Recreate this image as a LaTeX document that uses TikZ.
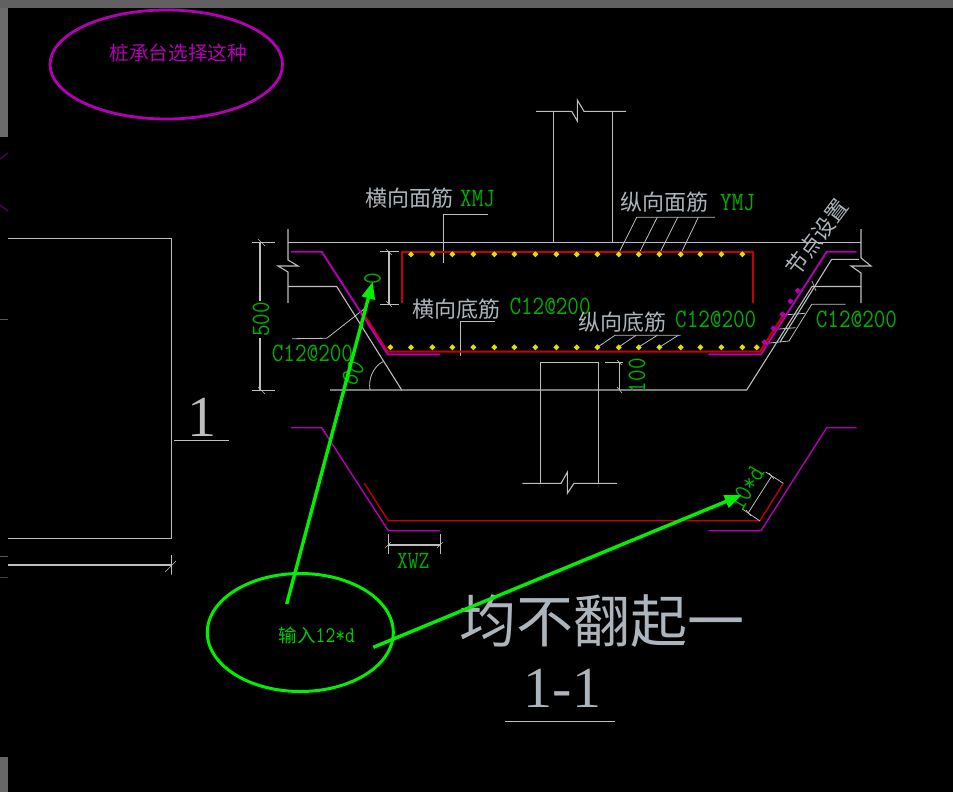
\documentclass[tikz,border=0pt]{standalone}
\usepackage{fontspec}
\usetikzlibrary{arrows.meta,shapes.geometric}
\newfontfamily\cjk{Noto Sans CJK SC}
\newfontfamily\cadserif{Liberation Serif}
\definecolor{cadwhite}{HTML}{BEBEBE}
\definecolor{cadmag}{HTML}{B400B4}
\definecolor{cadred}{HTML}{C80000}
\definecolor{cadgreen}{HTML}{00B000}
\definecolor{cadbright}{HTML}{00F000}
\definecolor{cadyellow}{HTML}{E0E000}
\definecolor{cadtext}{HTML}{ACB4BC}
\newcommand{\tall}[1]{\scalebox{1}[1.18]{#1}}
\newcommand{\ydot}[2]{\fill[cadyellow] (#1,#2) +(-3,0) -- +(0,-3) -- +(3,0) -- +(0,3) -- cycle;}
\newcommand{\mdot}[2]{\fill[cadmag] (#1,#2) +(-3,0) -- +(0,-3) -- +(3,0) -- +(0,3) -- cycle;}
\tikzset{
  wline/.style={draw=cadwhite,line width=1.1pt},
  tick/.style={draw=cadwhite,line width=0.6pt},
  leader/.style={draw=cadwhite,line width=0.8pt},
  magline/.style={draw=cadmag,line width=1.4pt,line join=miter},
  redline/.style={draw=cadred,line width=2pt},
  redthin/.style={draw=cadred,line width=1.3pt},
  cntext/.style={inner sep=0pt,text=cadtext,font=\cjk\fontsize{22}{22}\selectfont},
  grtext/.style={inner sep=0pt,text=cadgreen,font=\ttfamily\fontsize{22.5}{23}\selectfont},
  green arrow/.style={draw=cadbright,line width=3.4pt,-{Triangle[length=17pt,width=13pt]}},
}
\begin{document}
\begin{tikzpicture}[x=1pt,y=-1pt]
\useasboundingbox (0,0) rectangle (953,792);
\fill[black] (0,0) rectangle (953,792);
% window edges
\fill[white!38!black] (0,0) rectangle (953,8);
\fill[white!42!black] (0,8) rectangle (8,137);
\fill[white!40!black] (0,757) rectangle (8,792);
\draw[cadmag!45!black,line width=1.4pt] (0,159) -- (8,153);
\draw[cadmag!45!black,line width=1.4pt] (0,205) -- (8,211);
\draw[white!35!black,line width=.8pt] (0,319) -- (8,319);
\draw[white!35!black,line width=.8pt] (0,556.3) -- (8,556.3);
\draw[white!25!black,line width=.8pt] (0,577.7) -- (8,577.7);
% left rectangle
\draw[wline] (8,238.3) -- (171.5,238.3) -- (171.5,538.3) -- (8,538.3);
\draw[wline] (8,565) -- (171.5,565);
\draw[tick] (171.5,555) -- (171.5,574.5) (165,572) -- (176,561);
\node[inner sep=0pt,text=cadwhite,font=\cadserif\fontsize{58}{58}\selectfont] (one) at (202,417) {1};
\draw[wline] (174,440.5) -- (229,440.5);
% magenta oval and note
\node[ellipse,draw=cadmag,line width=2.8pt,minimum width=232.5pt,minimum height=109pt,inner sep=0pt] (oval) at (166.3,64.5) {};
\node[inner sep=0pt,text=cadmag,font=\cjk\fontsize{19.7}{20}\selectfont] (note) at (178.3,52.7) {桩承台选择这种};
% column above
\draw[wline] (536,111.3) -- (571.7,111.3) -- (577.3,121) -- (577.3,100) -- (584,111.3) -- (626,111.3);
\draw[wline] (553.3,111.3) -- (553.3,242.3) (612.3,111.3) -- (612.3,242.3);
% slab outline
\draw[wline] (288,229) -- (288,260) -- (298,266) -- (278,266) -- (288,272) -- (288,303);
\draw[wline] (288,242.3) -- (861,242.3);
\draw[wline] (288,286.5) -- (336.7,286.5) -- (401.7,390);
\draw[wline] (330,390) -- (746.7,390) -- (812,286.5) -- (861,286.5);
\draw[wline] (861,229) -- (861,258) -- (871,266) -- (851,266) -- (861,273) -- (861,303);
\draw[wline] (780,342) -- (831.7,259.3) -- (859,259.3);
\draw[tick] (812,281) -- (816,291);
% angle arc
\draw[leader] (383,361.7) .. controls (374,366) and (368,378) .. (370,390);
% pier below
\draw[wline] (540.3,483.3) -- (540.3,362.3) -- (598.3,362.3) -- (598.3,483.3);
\draw[wline] (522.3,483.3) -- (561,483.3) -- (567.3,472.3) -- (567.3,493.3) -- (574,483.3) -- (617,483.3);
% dimension 500
\draw[wline] (252.3,242.3) -- (275,242.3) (252.3,390.3) -- (275,390.3);
\draw[wline] (260,242.3) -- (260,301) (260,338) -- (260,390.3);
\draw[tick] (258,239) -- (265,246) (258,387) -- (265,394);
% dimension 0
\draw[wline] (380,251.7) -- (399,251.7) (380,304.3) -- (399,304.3);
\draw[wline] (389,251.7) -- (389,304.3);
\draw[tick] (386,249) -- (392,255) (386,301) -- (392,307);
% dimension 100
\draw[wline] (605,362.3) -- (623,362.3);
\draw[wline] (619.3,362.3) -- (619.3,390);
\draw[tick] (617,360) -- (622,365) (617,387) -- (622,393);
% leaders
\draw[wline] (487.7,214.3) -- (443.3,214.3) -- (443.3,262.7);
\draw[wline] (495,321.3) -- (460.3,321.3) -- (460.3,355.7);
\draw[leader] (292,338.7) -- (326.7,338.3) -- (365,308.3);
\draw[leader] (715,217.3) -- (636.7,217.3) -- (618.3,254);
\draw[leader] (657.3,217.3) -- (638.7,254) (677.7,217.3) -- (659.3,254) (698.3,217.3) -- (680.7,254);
\draw[leader] (680.7,335.3) -- (615,335.3) -- (597.3,347.3);
\draw[leader] (636,335.3) -- (618.3,347.3) (657.3,335.3) -- (638.3,347.3) (678.3,335.3) -- (659.3,347.3);
\draw[leader] (765,343.5) -- (789,341) -- (811.7,304.3) -- (845.7,304.3);
\draw[leader] (775,329.3) -- (795.7,327.7) (783.3,315) -- (805,313.3);
% upper rebar
\draw[redline] (401.7,303.3) -- (401.7,251.7) -- (752.7,251.7) -- (752.7,303.3);
\draw[redline] (365,316) -- (387.7,351.7) -- (760,351.7) -- (783.3,315);
\draw[magline,line width=1.9pt] (291,251.7) -- (321.7,251.7) -- (387.7,354.3) -- (440,354.3);
\draw[magline,line width=1.9pt] (708.3,354.3) -- (761,354.3) -- (826.7,251.7) -- (856.7,251.7);
\foreach \x in {411,432.3,452.3,473.3,494.3,514.3,535.3,556.3,576.7,597.3,618.7,638.7,659.3,680.7,700.3,721.3,742.3} {\ydot{\x}{254.3}}
\foreach \x in {390.3,411,432.3,452.3,473.3,494.3,514.3,535.3,556.3,576.7,597.3,618.7,638.7,659.3,680.7,700.3,721.3,742.3,756.7} {\ydot{\x}{347.3}}
\mdot{797.7}{290.7}\mdot{790.3}{301.3}\mdot{782.3}{314.3}\mdot{773.3}{328.3}\mdot{764.3}{342.3}
% lower rebar sketch
\draw[redthin] (364.3,483.3) -- (388.3,520.7) -- (760,520.7) -- (783.3,483.3);
\draw[magline] (291,427.7) -- (321.7,427.7) -- (388.3,530.7) -- (440,530.7);
\draw[magline] (708.3,530.7) -- (761,530.7) -- (826.7,427.7) -- (856.7,427.7);
% XWZ dimension
\draw[wline] (388.3,534) -- (388.3,553.7) (440.3,534) -- (440.3,553.7) (388.3,545) -- (440.3,545);
\draw[tick] (385,548) -- (391,542) (437,548) -- (443,542);
\node[grtext,font=\ttfamily\fontsize{21}{22}\selectfont] (xwz) at (413.3,561) {\tall{XWZ}};
% 10*d dimension
\draw[leader] (760,521) -- (742.3,509) (783.3,483.3) -- (765.7,472) (748.3,512.7) -- (771.7,476);
\draw[tick] (746,510) -- (751,516) (769,473) -- (774,479);
\node[grtext,rotate=60] (tend) at (746.5,488) {\tall{10*d}};
% labels
\node[cntext,anchor=west] (xm) at (365,198) {横向面筋};
\node[grtext,anchor=west] (xmj) at (460,199) {\tall{XMJ}};
\node[cntext,anchor=west] (xd) at (412.7,309) {横向底筋};
\node[grtext,anchor=west] (xdc) at (509.3,306) {\tall{C12@200}};
\node[cntext,anchor=west] (ym) at (620,201.7) {纵向面筋};
\node[grtext,anchor=west] (ymj) at (720,203) {\tall{YMJ}};
\node[cntext,anchor=west] (yd) at (578.3,321.7) {纵向底筋};
\node[grtext,anchor=west] (ydc) at (675,319) {\tall{C12@200}};
\node[grtext,anchor=west] (rc) at (815.7,319) {\tall{C12@200}};
\node[grtext,anchor=west] (lc) at (271.7,353) {\tall{C12@200}};
\node[grtext,rotate=90] (d500) at (261,319.5) {\tall{500}};
\node[grtext,rotate=90] (d100) at (637,375.7) {\tall{100}};
\node[grtext,rotate=90] (d0) at (372.5,278.3) {\tall{0}};
\node[grtext,rotate=62] (ang) at (353,373) {\tall{60}};
\node[cntext,rotate=53] (jd) at (817,237) {节点设置};
% title
\node[inner sep=0pt,text=cadtext,font=\cjk\fontsize{57}{57}\selectfont] (title) at (601.5,621.5) {均不翻起一};
\node[inner sep=0pt,text=cadtext,font=\cadserif\fontsize{58}{58}\selectfont] (sec) at (562.5,688) {1-1};
\draw[wline] (505,721.3) -- (615,721.3);
% green callout
\node[ellipse,draw=cadbright,line width=3pt,minimum width=186pt,minimum height=118pt,inner sep=0pt] (callout) at (300.3,632.5) {};
\node[inner sep=0pt,text=cadbright!85!black,font=\ttfamily\fontsize{19}{19}\selectfont] (inp) at (316.8,635) {{\cjk\fontsize{18.5}{19}\selectfont 输入}\tall{12*d}};
\coordinate (a1) at (286.7,604);
\coordinate (t1) at (372.7,281.7);
\coordinate (a2) at (373.3,647.3);
\coordinate (t2) at (741.7,495);
\draw[green arrow] (a1) -- (t1);
\draw[green arrow] (a2) -- (t2);
\end{tikzpicture}
\end{document}
